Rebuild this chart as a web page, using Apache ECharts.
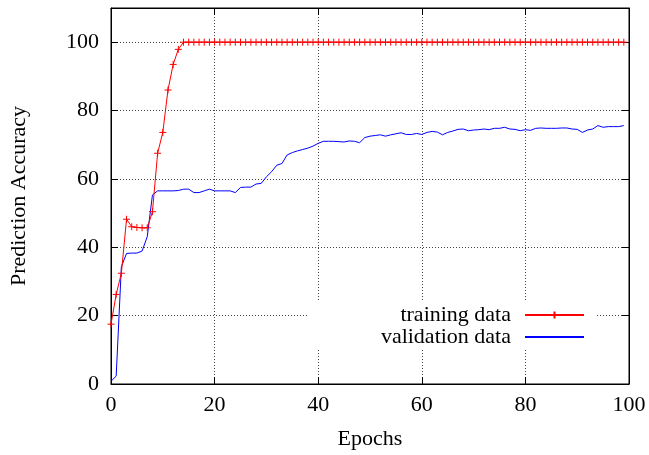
<!DOCTYPE html>
<html>
<head>
<meta charset="utf-8">
<script src="https://cdn.jsdelivr.net/npm/echarts@6/dist/echarts.min.js"></script>
<style>html,body{margin:0;padding:0;background:#fff;}#chart{width:649px;height:455px;}</style>
</head>
<body>
<div id="chart"></div>
<script>
const seriesNames = ['training data', 'validation data'];
const xTicks = [0, 20, 40, 60, 80, 100];
const yTicks = [0, 20, 40, 60, 80, 100];
const trainAcc = [
  17.5, 26.2, 32.4, 48.2, 46.0, 45.8, 45.7, 45.7, 50.4, 67.5,
  73.6, 86.0, 93.5, 97.9, 100, 100, 100, 100, 100, 100,
  100, 100, 100, 100, 100, 100, 100, 100, 100, 100,
  100, 100, 100, 100, 100, 100, 100, 100, 100, 100,
  100, 100, 100, 100, 100, 100, 100, 100, 100, 100,
  100, 100, 100, 100, 100, 100, 100, 100, 100, 100,
  100, 100, 100, 100, 100, 100, 100, 100, 100, 100,
  100, 100, 100, 100, 100, 100, 100, 100, 100, 100,
  100, 100, 100, 100, 100, 100, 100, 100, 100, 100,
  100, 100, 100, 100, 100, 100, 100, 100, 100, 100
];
const valAcc = [
  0.8, 2.3, 34.3, 38.2, 38.3, 38.3, 38.9, 43.1, 55.3, 56.5,
  56.5, 56.5, 56.5, 56.6, 57.0, 57.0, 56.0, 56.0, 56.5, 57.0,
  56.5, 56.5, 56.5, 56.5, 56.0, 57.5, 57.6, 57.6, 58.5, 58.7,
  60.6, 62.1, 64.0, 64.5, 67.0, 67.7, 68.2, 68.6, 69.0, 69.6,
  70.4, 71.0, 71.0, 71.0, 70.9, 70.8, 71.1, 71.0, 70.6, 72.1,
  72.5, 72.7, 72.9, 72.5, 72.9, 73.2, 73.5, 73.0, 73.0, 73.3,
  73.0, 73.6, 73.9, 73.7, 72.9, 73.6, 74.0, 74.5, 74.6, 74.1,
  74.3, 74.4, 74.6, 74.4, 74.8, 74.8, 75.1, 74.6, 74.5, 74.1,
  74.4, 74.2, 74.8, 74.9, 74.8, 74.8, 74.8, 74.9, 74.9, 74.6,
  74.5, 73.6, 74.3, 74.6, 75.6, 75.1, 75.3, 75.3, 75.3, 75.6
];

const FONT = 'Liberation Serif';
const chart = echarts.init(document.getElementById('chart'), null, {renderer: 'canvas'});
const plus = 'path://M0,5L10,5M5,0L5,10';
const gridLine = {show: true, lineStyle: {color: '#444', type: [1, 2], width: 1}};

chart.setOption({
  animation: false,
  backgroundColor: '#fff',
  grid: {left: 110, right: 20, top: 8, bottom: 71, show: true, borderColor: '#000', borderWidth: 1, backgroundColor: 'transparent'},
  legend: {
    orient: 'vertical',
    align: 'right',
    right: 52,
    top: 300,
    padding: [4, 12, 2, 72],
    itemGap: 0,
    itemWidth: 59,
    itemHeight: 9,
    backgroundColor: '#fff',
    data: [seriesNames[0], {name: seriesNames[1], itemStyle: {opacity: 0}}],
    textStyle: {fontFamily: FONT, fontSize: 22, color: '#000', padding: [0, 9, 0, 0]}
  },
  xAxis: [{
    type: 'value', min: 0, max: 100, interval: 20, position: 'bottom',
    name: 'Epochs', nameLocation: 'middle', nameGap: 44,
    nameTextStyle: {fontFamily: FONT, fontSize: 22, color: '#000'},
    axisLine: {show: true, onZero: false, lineStyle: {color: '#000'}},
    axisTick: {show: true, inside: true, length: 7, lineStyle: {color: '#000'}},
    axisLabel: {fontFamily: FONT, fontSize: 22, color: '#000', margin: 10,
      formatter: v => (xTicks.indexOf(v) >= 0 ? String(v) : '')},
    splitLine: gridLine
  }, {
    type: 'value', min: 0, max: 100, interval: 20, position: 'top',
    axisLine: {show: true, onZero: false, lineStyle: {color: '#000'}},
    axisTick: {show: true, inside: true, length: 7, lineStyle: {color: '#000'}},
    axisLabel: {show: false}, splitLine: {show: false}
  }],
  yAxis: [{
    type: 'value', min: 0, max: 110, interval: 20, position: 'left',
    name: 'Prediction Accuracy', nameLocation: 'middle', nameGap: 81,
    nameTextStyle: {fontFamily: FONT, fontSize: 22, color: '#000'},
    axisLine: {show: true, onZero: false, lineStyle: {color: '#000'}},
    axisTick: {show: true, inside: true, length: 7, lineStyle: {color: '#000'}},
    axisLabel: {fontFamily: FONT, fontSize: 22, color: '#000', margin: 12,
      formatter: v => (yTicks.indexOf(v) >= 0 ? String(v) : '')},
    splitLine: gridLine
  }, {
    type: 'value', min: 0, max: 110, interval: 20, position: 'right',
    axisLine: {show: true, onZero: false, lineStyle: {color: '#000'}},
    axisTick: {show: true, inside: true, length: 7, lineStyle: {color: '#000'}},
    axisLabel: {show: false}, splitLine: {show: false}
  }],
  series: [{
    name: seriesNames[0], type: 'line',
    data: trainAcc.map((v, i) => [i, v]),
    symbol: plus, symbolSize: 7, showSymbol: true, showAllSymbol: true,
    lineStyle: {color: '#ff0000', width: 1},
    itemStyle: {color: 'none', borderColor: '#ff0000', borderWidth: 1},
    z: 3
  }, {
    name: seriesNames[1], type: 'line',
    data: valAcc.map((v, i) => [i, v]),
    symbol: 'none', showSymbol: false,
    lineStyle: {color: '#0000ff', width: 1},
    itemStyle: {color: '#0000ff'},
    z: 2
  }]
});
</script>
</body>
</html>
